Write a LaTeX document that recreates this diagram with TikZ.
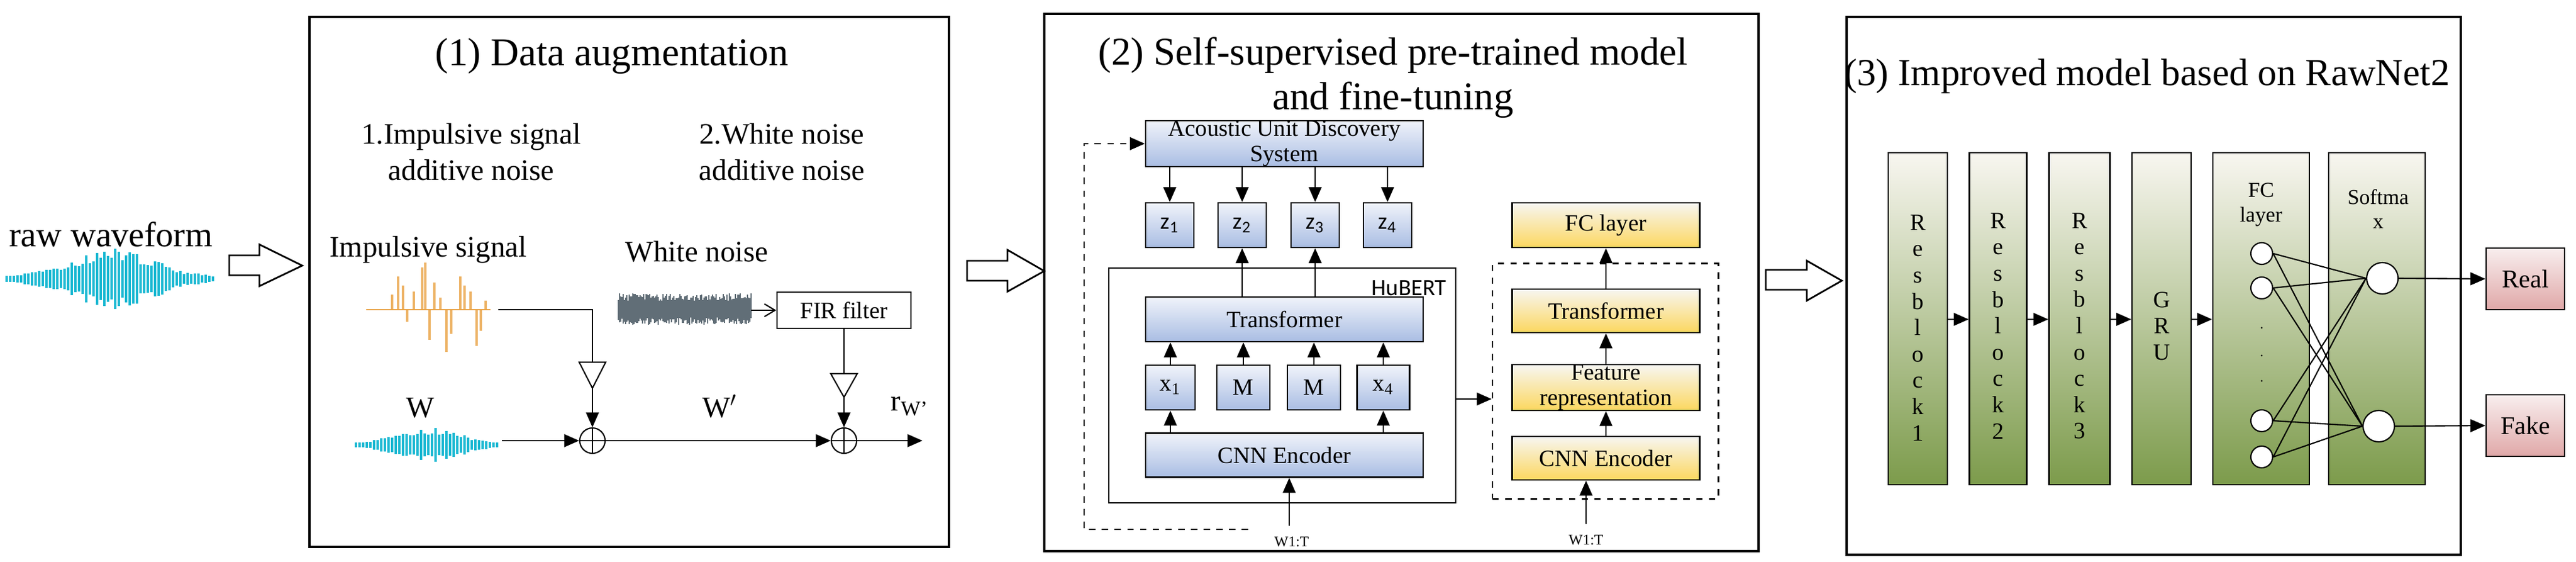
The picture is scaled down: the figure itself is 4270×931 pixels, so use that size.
\documentclass[tikz,border=0pt]{standalone}
\usepackage{fontspec}
\setmainfont{Liberation Serif}
\newfontfamily\calfont{Carlito}
\usetikzlibrary{arrows.meta}
\definecolor{wav}{HTML}{1AB8D2}
\definecolor{imp}{HTML}{E8A040}
\definecolor{nz}{HTML}{3A4A55}
\tikzset{
 panel/.style={draw,line width=1.2pt},
 arr/.style={-{Triangle[length=7pt,width=6pt]},line width=0.6pt},
 bbox/.style={draw,line width=0.7pt,top color={rgb,255:red,240;green,243;blue,250},bottom color={rgb,255:red,169;green,189;blue,227},inner sep=0pt,font=\fontsize{11}{12}\selectfont,align=center},
 ybox/.style={draw,line width=0.7pt,shading=axis,top color={rgb,255:red,247;green,246;blue,242},middle color={rgb,255:red,245;green,241;blue,222},bottom color={rgb,255:red,252;green,215;blue,95},inner sep=0pt,font=\fontsize{11}{12}\selectfont,align=center},
 gbox/.style={draw,line width=0.7pt,shading=axis,top color={rgb,255:red,248;green,246;blue,240},middle color={rgb,255:red,218;green,228;blue,194},bottom color={rgb,255:red,124;green,155;blue,75},inner sep=0pt,minimum height=5.5cm},
 rbox/.style={draw,line width=0.7pt,top color={rgb,255:red,248;green,238;blue,238},bottom color={rgb,255:red,224;green,168;blue,168},inner sep=0pt,minimum width=1.3cm,minimum height=1.02cm,font=\fontsize{12}{13}\selectfont},
 sum/.style={draw,circle,line width=0.6pt,minimum size=0.42cm,inner sep=0pt,fill=white,path picture={\draw (path picture bounding box.north) -- (path picture bounding box.south) (path picture bounding box.west) -- (path picture bounding box.east);}},
 neu/.style={draw,circle,line width=0.6pt,fill=white,inner sep=0pt},
 tri/.style={draw,line width=0.6pt,fill=white},
 hollow/.style={draw,line width=0.8pt,fill=white},
 ttl/.style={font=\fontsize{18.5}{21}\selectfont,align=center},
 sub/.style={font=\fontsize{14}{17}\selectfont,align=center},
 vert/.style={font=\fontsize{11}{12.4}\selectfont,align=center},
}
\newcommand\mywave[5]{% cx cy halfwidth amp nsteps(=2*hw/6)
 \pgfmathsetseed{7}
 \foreach \i in {0,...,#5}{
  \pgfmathsetmacro\t{-#3+6*\i}
  \pgfmathsetmacro\r{\t/#3}
  \pgfmathsetmacro\a{#4*exp(-3*\r*\r)*(0.45+0.55*rnd)+3}
  \draw[wav,line width=1.2pt] (#1+\t,#2-\a) -- (#1+\t,#2+\a);
 }}
\begin{document}
\begin{tikzpicture}[x=0.01cm,y=-0.01cm]
\useasboundingbox (0,0) rectangle (4270,931);
% ---------- panels
\draw[panel] (513,28) rectangle (1573,906);
\draw[panel] (1731,23) rectangle (2915,913);
\draw[panel] (3061,28) rectangle (4079,919);
% hollow arrows
\draw[hollow] (380,423) -- (430,423) -- (430,405) -- (501,440) -- (430,474) -- (430,456) -- (380,456) -- cycle;
\draw[hollow] (1603,432) -- (1670,432) -- (1670,414) -- (1731,449) -- (1670,483) -- (1670,465) -- (1603,465) -- cycle;
\draw[hollow] (2927,447) -- (2995,447) -- (2995,432) -- (3053,465) -- (2995,498) -- (2995,480) -- (2927,480) -- cycle;
% ---------- panel 1
\node[font=\fontsize{16.5}{19}\selectfont] (raw) at (184,388) {raw waveform};
\mywave{184}{462}{173}{48}{57}
\node[ttl] (t1) at (1014,93) {(1) Data augmentation};
\node[sub] (s1t) at (781,252) {1.Impulsive signal\\additive noise};
\node[sub] (s2t) at (1296,252) {2.White noise\\additive noise};
\node[sub] (imt) at (710,414) {Impulsive signal};
\node[sub] (wnt) at (1155,417) {White noise};
% impulsive signal
\draw[imp,line width=0.6pt] (607,513) -- (813,513);
\foreach \x/\h in {650/-25,660/-55,668/-40,675/20,686/-30,700/-70,705/-78,712/50,720/-45,730/-20,740/70,748/40,763/-55,770/-40,780/-30,790/60,797/35,805/-15}
 \draw[imp,line width=0.9pt,opacity=0.8] (\x,513) -- (\x,513+\h);
\coordinate (impend) at (826,513);
% white noise
\pgfmathsetseed{3}
\foreach \x in {1025,1027,...,1245}{
 \pgfmathsetmacro\a{14+12*rnd}\pgfmathsetmacro\b{14+12*rnd}
 \draw[nz,line width=0.7pt,opacity=0.8] (\x,512-\a) -- (\x,512+\b);
}
\coordinate (nzend) at (1245,514);
\node[draw,line width=0.7pt,minimum width=2.22cm,minimum height=0.6cm,font=\fontsize{11}{12}\selectfont] (fir) at (1399,514) {FIR filter};
\draw[-{Straight Barb[length=5pt,width=6pt]},line width=0.6pt] (nzend) -- (fir.west);
\node[sum] (sa) at (982,730) {};
\node[sum] (sb) at (1399,730) {};
\draw[arr] (impend) -- (982,513) -- (sa.north);
\draw[tri] (960,600) -- (1004,600) -- (982,643) -- cycle;
\draw[arr] (fir.south) -- (sb.north);
\draw[tri] (1377,619) -- (1421,619) -- (1399,658) -- cycle;
\node[sub] (wt) at (697,676) {W};
\mywave{708}{737}{118}{29}{39}
\coordinate (wend) at (832,730);
\draw[arr] (wend) -- (sa.west);
\draw[arr] (sa.east) -- (sb.west);
\coordinate (out) at (1529,730);
\draw[arr] (sb.east) -- (out);
\node[sub] (wpt) at (1193,673) {W$^{\prime}$};
\node[sub] (rwt) at (1508,673) {r\textsubscript{W'}};
% ---------- panel 2
\node[ttl] (t2) at (2309,129) {(2) Self-supervised pre-trained model\\and fine-tuning};
\node[bbox,minimum width=4.6cm,minimum height=0.74cm] (auds) at (2129,238) {Acoustic Unit Discovery\\System};
\foreach \n/\x in {1/1939,2/2059,3/2180,4/2300}
 \node[bbox,minimum width=0.8cm,minimum height=0.74cm,font=\calfont\fontsize{11}{12}\selectfont] (z\n) at (\x,373) {z\textsubscript{\n}};
\node[draw,line width=0.7pt,minimum width=5.75cm,minimum height=3.89cm,inner sep=0pt] (hub) at (2125.5,638.5) {};
\node[font=\calfont\fontsize{11}{12}\selectfont,anchor=north east] (hubt) at (2410,452) {HuBERT};
\node[bbox,minimum width=4.6cm,minimum height=0.74cm] (tr) at (2129,529) {Transformer};
\node[bbox,minimum width=0.82cm,minimum height=0.74cm] (xa) at (1940,642) {x\textsubscript{1}};
\node[bbox,minimum width=0.88cm,minimum height=0.74cm] (xb) at (2061,642) {M};
\node[bbox,minimum width=0.88cm,minimum height=0.74cm] (xc) at (2178,642) {M};
\node[bbox,minimum width=0.87cm,minimum height=0.74cm] (xd) at (2293,642) {x\textsubscript{4}};
\node[bbox,minimum width=4.6cm,minimum height=0.73cm] (cnn) at (2129,754) {CNN Encoder};
\foreach \n in {1,2,3,4} \draw[arr] (auds.south -| z\n.north) -- (z\n.north);
\draw[arr] (tr.north -| z2.south) -- (z2.south);
\draw[arr] (tr.north -| z3.south) -- (z3.south);
\foreach \n in {xa,xb,xc,xd} \draw[arr] (\n.north) -- (\n.north |- tr.south);
\draw[arr] (cnn.north -| xa.south) -- (xa.south);
\draw[arr] (cnn.north -| xd.south) -- (xd.south);
\coordinate (ina) at (2137,871);
\draw[arr] (ina) -- (ina |- cnn.south);
\node[font=\fontsize{7}{8}\selectfont] (wa) at (2141,898) {W1:T};
\coordinate (da) at (2069,877);
\draw[arr,dashed] (da) -- (1797,877) -- (1797,238) -- (auds.west);
\node[draw,dashed,line width=0.8pt,minimum width=3.74cm,minimum height=3.89cm,inner sep=0pt] (dbox) at (2661,631.5) {};
\draw[arr] (hub.east |- {(0,661)}) -- (dbox.west |- {(0,661)});
\node[ybox,minimum width=3.11cm,minimum height=0.74cm] (yfc) at (2662,373) {FC layer};
\node[ybox,minimum width=3.11cm,minimum height=0.72cm] (ytr) at (2662,515) {Transformer};
\node[ybox,minimum width=3.11cm,minimum height=0.74cm] (yfe) at (2662,642) {Feature\\representation};
\node[ybox,minimum width=3.11cm,minimum height=0.72cm] (ycn) at (2662,759) {CNN Encoder};
\draw[arr] (ytr.north) -- (yfc.south);
\draw[arr] (yfe.north) -- (ytr.south);
\draw[arr] (ycn.north) -- (yfe.south);
\coordinate (inb) at (2629,868);
\draw[arr] (inb) -- (inb |- ycn.south);
\node[font=\fontsize{7}{8}\selectfont] (wb) at (2629,895) {W1:T};
% ---------- panel 3
\node[ttl,font=\fontsize{18}{21}\selectfont] (t3) at (3559,126) {(3) Improved model based on RawNet2};
\node[gbox,minimum width=0.98cm] (ra) at (3179,528) {};
\node[gbox,minimum width=0.95cm] (rb) at (3312,528) {};
\node[gbox,minimum width=1.01cm] (rc) at (3447,528) {};
\node[gbox,minimum width=0.98cm] (gru) at (3583,528) {};
\node[gbox,minimum width=1.6cm] (fc) at (3748,528) {};
\node[gbox,minimum width=1.6cm] (sm) at (3940,528) {};
\node[vert] (rat) at (3179,543) {R\\e\\s\\b\\l\\o\\c\\k\\1};
\node[vert] (rbt) at (3312,540) {R\\e\\s\\b\\l\\o\\c\\k\\2};
\node[vert] (rct) at (3447,540) {R\\e\\s\\b\\l\\o\\c\\k\\3};
\node[vert] (grut) at (3583,540) {G\\R\\U};
\node[vert,font=\fontsize{10}{11.5}\selectfont] (fct) at (3748,339) {FC\\layer};
\node[vert,font=\fontsize{10}{11.5}\selectfont] (smt) at (3942,346) {Softma\\x};
\draw[arr] (ra.east |- {(0,529)}) -- (rb.west |- {(0,529)});
\draw[arr] (rb.east |- {(0,529)}) -- (rc.west |- {(0,529)});
\draw[arr] (rc.east |- {(0,529)}) -- (gru.west |- {(0,529)});
\draw[arr] (gru.east |- {(0,529)}) -- (fc.west |- {(0,529)});
\node[neu,minimum size=0.36cm] (fa) at (3749,420) {};
\node[neu,minimum size=0.36cm] (fb) at (3749,477) {};
\node[neu,minimum size=0.36cm] (fcc) at (3749,697) {};
\node[neu,minimum size=0.36cm] (fd) at (3749,757) {};
\foreach \y in {543,589,631} \fill (3749,\y) circle (1.6);
\node[neu,minimum size=0.52cm] (sa1) at (3949,461) {};
\node[neu,minimum size=0.52cm] (sb1) at (3943,706) {};
\foreach \f in {fa,fb,fcc,fd}{
 \draw[line width=0.6pt] (\f.east) -- (sa1.west);
 \draw[line width=0.6pt] (\f.east) -- (sb1.west);
}
\node[rbox] (real) at (4186,462) {Real};
\node[rbox] (fake) at (4186,705) {Fake};
\draw[arr] (sa1.east) -- (real.west);
\draw[arr] (sb1.east) -- (fake.west);
\end{tikzpicture}
\end{document}
